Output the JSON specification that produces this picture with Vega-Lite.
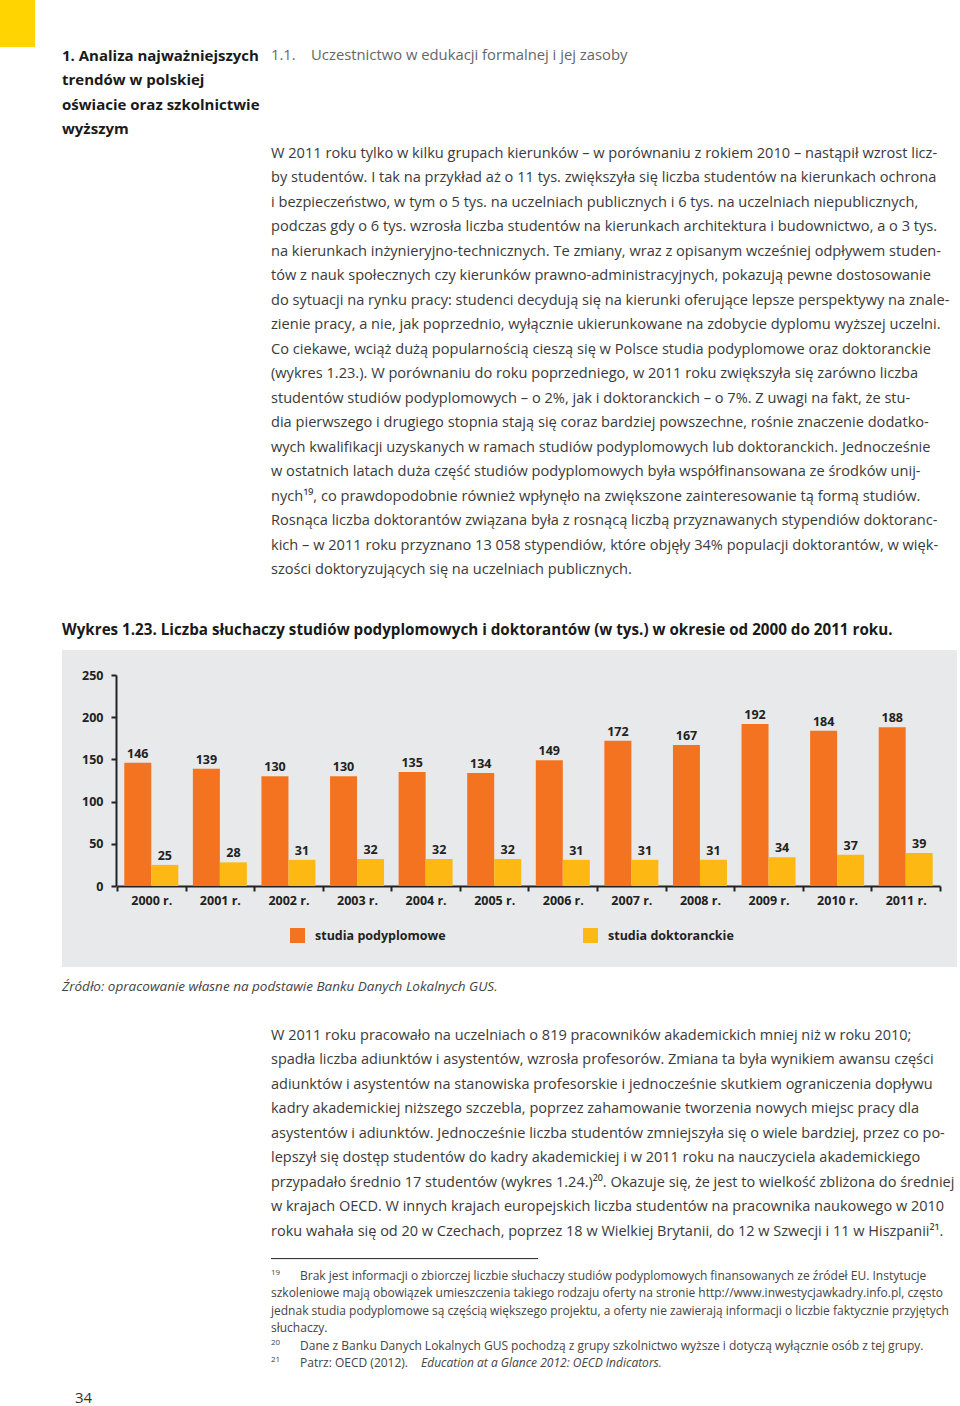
{
  "$schema": "https://vega.github.io/schema/vega-lite/v6.json",
  "background": "white",
  "padding": 0,
  "spacing": 0,
  "config": {
    "view": {"stroke": null},
    "concat": {"spacing": 0},
    "font": "Open Sans"
  },
  "datasets": {
    "top": [
      {"line": 0, "col": "head", "style": "head", "text": "1. Analiza najważniejszych"},
      {"line": 1, "col": "head", "style": "head", "text": "trendów w polskiej"},
      {"line": 2, "col": "head", "style": "head", "text": "oświacie oraz szkolnictwie"},
      {"line": 3, "col": "head", "style": "head", "text": "wyższym"},
      {"line": 0, "col": "body", "style": "sec", "text": "1.1.\u00a0\u00a0\u00a0\u00a0Uczestnictwo w edukacji formalnej i jej zasoby"},
      {"line": 4, "col": "body", "style": "body", "text": "W 2011 roku tylko w kilku grupach kierunków – w porównaniu z rokiem 2010 – nastąpił wzrost licz-"},
      {"line": 5, "col": "body", "style": "body", "text": "by studentów. I tak na przykład aż o 11 tys. zwiększyła się liczba studentów na kierunkach ochrona"},
      {"line": 6, "col": "body", "style": "body", "text": "i bezpieczeństwo, w tym o 5 tys. na uczelniach publicznych i 6 tys. na uczelniach niepublicznych,"},
      {"line": 7, "col": "body", "style": "body", "text": "podczas gdy o 6 tys. wzrosła liczba studentów na kierunkach architektura i budownictwo, a o 3 tys."},
      {"line": 8, "col": "body", "style": "body", "text": "na kierunkach inżynieryjno-technicznych. Te zmiany, wraz z opisanym wcześniej odpływem studen-"},
      {"line": 9, "col": "body", "style": "body", "text": "tów z nauk społecznych czy kierunków prawno-administracyjnych, pokazują pewne dostosowanie"},
      {"line": 10, "col": "body", "style": "body", "text": "do sytuacji na rynku pracy: studenci decydują się na kierunki oferujące lepsze perspektywy na znale-"},
      {"line": 11, "col": "body", "style": "body", "text": "zienie pracy, a nie, jak poprzednio, wyłącznie ukierunkowane na zdobycie dyplomu wyższej uczelni."},
      {"line": 12, "col": "body", "style": "body", "text": "Co ciekawe, wciąż dużą popularnością cieszą się w Polsce studia podyplomowe oraz doktoranckie"},
      {"line": 13, "col": "body", "style": "body", "text": "(wykres 1.23.). W porównaniu do roku poprzedniego, w 2011 roku zwiększyła się zarówno liczba"},
      {"line": 14, "col": "body", "style": "body", "text": "studentów studiów podyplomowych – o 2%, jak i doktoranckich – o 7%. Z uwagi na fakt, że stu-"},
      {"line": 15, "col": "body", "style": "body", "text": "dia pierwszego i drugiego stopnia stają się coraz bardziej powszechne, rośnie znaczenie dodatko-"},
      {"line": 16, "col": "body", "style": "body", "text": "wych kwalifikacji uzyskanych w ramach studiów podyplomowych lub doktoranckich. Jednocześnie"},
      {"line": 17, "col": "body", "style": "body", "text": "w ostatnich latach duża część studiów podyplomowych była współfinansowana ze środków unij-"},
      {"line": 18, "col": "body", "style": "body", "text": "nych¹⁹, co prawdopodobnie również wpłynęło na zwiększone zainteresowanie tą formą studiów."},
      {"line": 19, "col": "body", "style": "body", "text": "Rosnąca liczba doktorantów związana była z rosnącą liczbą przyznawanych stypendiów doktoranc-"},
      {"line": 20, "col": "body", "style": "body", "text": "kich – w 2011 roku przyznano 13 058 stypendiów, które objęły 34% populacji doktorantów, w więk-"},
      {"line": 21, "col": "body", "style": "body", "text": "szości doktoryzujących się na uczelniach publicznych."},
      {"line": 23.43, "col": "head", "style": "ctitle", "text": "Wykres 1.23. Liczba słuchaczy studiów podyplomowych i doktorantów (w tys.) w okresie od 2000 do 2011 roku."}
    ],
    "bottom": [
      {"line": -2, "col": "head", "style": "src", "text": "Źródło: opracowanie własne na podstawie Banku Danych Lokalnych GUS."},
      {"line": 0, "col": "body", "style": "body", "text": "W 2011 roku pracowało na uczelniach o 819 pracowników akademickich mniej niż w roku 2010;"},
      {"line": 1, "col": "body", "style": "body", "text": "spadła liczba adiunktów i asystentów, wzrosła profesorów. Zmiana ta była wynikiem awansu części"},
      {"line": 2, "col": "body", "style": "body", "text": "adiunktów i asystentów na stanowiska profesorskie i jednocześnie skutkiem ograniczenia dopływu"},
      {"line": 3, "col": "body", "style": "body", "text": "kadry akademickiej niższego szczebla, poprzez zahamowanie tworzenia nowych miejsc pracy dla"},
      {"line": 4, "col": "body", "style": "body", "text": "asystentów i adiunktów. Jednocześnie liczba studentów zmniejszyła się o wiele bardziej, przez co po-"},
      {"line": 5, "col": "body", "style": "body", "text": "lepszył się dostęp studentów do kadry akademickiej i w 2011 roku na nauczyciela akademickiego"},
      {"line": 6, "col": "body", "style": "body", "text": "przypadało średnio 17 studentów (wykres 1.24.)²⁰. Okazuje się, że jest to wielkość zbliżona do średniej"},
      {"line": 7, "col": "body", "style": "body", "text": "w krajach OECD. W innych krajach europejskich liczba studentów na pracownika naukowego w 2010"},
      {"line": 8, "col": "body", "style": "body", "text": "roku wahała się od 20 w Czechach, poprzez 18 w Wielkiej Brytanii, do 12 w Szwecji i 11 w Hiszpanii²¹."}
    ],
    "notes": [
      {"fn": 0, "col": "body", "kind": "num", "text": "19"},
      {"fn": 0, "col": "body", "kind": "first", "text": "Brak jest informacji o zbiorczej liczbie słuchaczy studiów podyplomowych finansowanych ze źródeł EU. Instytucje"},
      {"fn": 1, "col": "body", "kind": "cont", "text": "szkoleniowe mają obowiązek umieszczenia takiego rodzaju oferty na stronie http://www.inwestycjawkadry.info.pl, często"},
      {"fn": 2, "col": "body", "kind": "cont", "text": "jednak studia podyplomowe są częścią większego projektu, a oferty nie zawierają informacji o liczbie faktycznie przyjętych"},
      {"fn": 3, "col": "body", "kind": "cont", "text": "słuchaczy."},
      {"fn": 4, "col": "body", "kind": "num", "text": "20"},
      {"fn": 4, "col": "body", "kind": "first", "text": "Dane z Banku Danych Lokalnych GUS pochodzą z grupy szkolnictwo wyższe i dotyczą wyłącznie osób z tej grupy."},
      {"fn": 5, "col": "body", "kind": "num", "text": "21"},
      {"fn": 5, "col": "body", "kind": "first", "text": "Patrz: OECD (2012)."},
      {"fn": 5, "col": "body", "kind": "italic", "text": "Education at a Glance 2012: OECD Indicators."},
      {"fn": 7, "col": "head", "kind": "page", "text": "34"}
    ],
    "separator": [
      {"start": 0, "end": 1, "fn": -1}
    ],
    "wykres": [
      {"rok": "2000 r.", "rodzaj": "studia podyplomowe", "liczba": 146},
      {"rok": "2000 r.", "rodzaj": "studia doktoranckie", "liczba": 25},
      {"rok": "2001 r.", "rodzaj": "studia podyplomowe", "liczba": 139},
      {"rok": "2001 r.", "rodzaj": "studia doktoranckie", "liczba": 28},
      {"rok": "2002 r.", "rodzaj": "studia podyplomowe", "liczba": 130},
      {"rok": "2002 r.", "rodzaj": "studia doktoranckie", "liczba": 31},
      {"rok": "2003 r.", "rodzaj": "studia podyplomowe", "liczba": 130},
      {"rok": "2003 r.", "rodzaj": "studia doktoranckie", "liczba": 32},
      {"rok": "2004 r.", "rodzaj": "studia podyplomowe", "liczba": 135},
      {"rok": "2004 r.", "rodzaj": "studia doktoranckie", "liczba": 32},
      {"rok": "2005 r.", "rodzaj": "studia podyplomowe", "liczba": 134},
      {"rok": "2005 r.", "rodzaj": "studia doktoranckie", "liczba": 32},
      {"rok": "2006 r.", "rodzaj": "studia podyplomowe", "liczba": 149},
      {"rok": "2006 r.", "rodzaj": "studia doktoranckie", "liczba": 31},
      {"rok": "2007 r.", "rodzaj": "studia podyplomowe", "liczba": 172},
      {"rok": "2007 r.", "rodzaj": "studia doktoranckie", "liczba": 31},
      {"rok": "2008 r.", "rodzaj": "studia podyplomowe", "liczba": 167},
      {"rok": "2008 r.", "rodzaj": "studia doktoranckie", "liczba": 31},
      {"rok": "2009 r.", "rodzaj": "studia podyplomowe", "liczba": 192},
      {"rok": "2009 r.", "rodzaj": "studia doktoranckie", "liczba": 34},
      {"rok": "2010 r.", "rodzaj": "studia podyplomowe", "liczba": 184},
      {"rok": "2010 r.", "rodzaj": "studia doktoranckie", "liczba": 37},
      {"rok": "2011 r.", "rodzaj": "studia podyplomowe", "liczba": 188},
      {"rok": "2011 r.", "rodzaj": "studia doktoranckie", "liczba": 39}
    ]
  },
  "vconcat": [
    {
      "width": 35,
      "height": 47,
      "view": {"fill": "#ffd400", "stroke": null},
      "data": {"values": [{}]},
      "mark": {"type": "text", "text": ""}
    },
    {
      "width": 960,
      "height": 602,
      "view": {"fill": "white", "stroke": null},
      "data": {"name": "top"},
      "encoding": {
        "x": {"field": "col", "type": "nominal", "scale": {"type": "point", "domain": ["head", "body"], "range": [62, 271], "padding": 0}, "axis": null},
        "y": {"field": "line", "type": "quantitative", "scale": {"domain": [-0.3265, 24.2449], "reverse": true, "nice": false, "zero": false}, "axis": null},
        "text": {"field": "text", "type": "nominal"}
      },
      "layer": [
        {"transform": [{"filter": "datum.style === 'head'"}], "mark": {"type": "text", "align": "left", "baseline": "middle", "font": "Open Sans", "fontWeight": "bold", "fontSize": 15, "color": "#1a1a1a"}},
        {"transform": [{"filter": "datum.style === 'sec'"}], "mark": {"type": "text", "align": "left", "baseline": "middle", "font": "Open Sans", "fontSize": 14.8, "color": "#666666"}},
        {"transform": [{"filter": "datum.style === 'body'"}], "mark": {"type": "text", "align": "left", "baseline": "middle", "font": "Open Sans", "fontSize": 14.6, "color": "#3a3a3a"}},
        {"transform": [{"filter": "datum.style === 'ctitle'"}], "mark": {"type": "text", "align": "left", "baseline": "middle", "font": "Open Sans", "fontWeight": "bold", "fontSize": 15.2, "color": "#1a1a1a"}}
      ]
    },
    {
      "hconcat": [
        {
          "width": 62,
          "height": 317,
          "view": {"fill": "white", "stroke": null},
          "data": {"values": [{}]},
          "mark": {"type": "text", "text": ""}
        },
        {
          "width": 895,
          "height": 317,
          "view": {"fill": "#e8e9ea", "stroke": null},
          "data": {"name": "wykres"},
          "encoding": {
            "x": {
              "field": "rok", "type": "nominal", "sort": null,
              "scale": {"range": [55, 878], "paddingInner": 0, "paddingOuter": 0},
              "axis": {"orient": "bottom", "offset": -81, "title": null, "labelAngle": 0, "domainColor": "#222222", "domainWidth": 2, "tickColor": "#222222", "tickWidth": 2, "tickSize": 5, "tickBand": "extent", "labelFont": "Open Sans", "labelFontWeight": "bold", "labelFontSize": 12.5, "labelColor": "#222222", "labelPadding": 3}
            },
            "xOffset": {"field": "rodzaj", "type": "nominal", "scale": {"domain": ["studia podyplomowe", "studia doktoranckie"], "paddingInner": 0, "paddingOuter": 0.27}},
            "y": {
              "field": "liczba", "type": "quantitative",
              "scale": {"domain": [0, 250], "range": [236, 25], "nice": false},
              "axis": {"orient": "left", "offset": -54, "title": null, "values": [0, 50, 100, 150, 200, 250], "grid": false, "domainColor": "#222222", "domainWidth": 2, "tickColor": "#222222", "tickWidth": 2, "tickSize": 5, "labelPadding": 8, "labelFont": "Open Sans", "labelFontWeight": "bold", "labelFontSize": 12.5, "labelColor": "#222222"}
            }
          },
          "layer": [
            {
              "mark": {"type": "bar"},
              "encoding": {
                "color": {
                  "field": "rodzaj", "type": "nominal",
                  "scale": {"domain": ["studia podyplomowe", "studia doktoranckie"], "range": ["#f47321", "#fdb813"]},
                  "legend": {"orient": "none", "legendX": 290, "legendY": 928, "direction": "horizontal", "title": null, "symbolType": "square", "symbolSize": 225, "symbolStrokeWidth": 0, "symbolOpacity": 1, "labelFont": "Open Sans", "labelFontSize": 12.5, "labelFontWeight": "bold", "labelColor": "#222222", "labelOffset": 10, "columnPadding": 137, "padding": 0}
                }
              }
            },
            {
              "mark": {"type": "text", "baseline": "alphabetic", "dy": -5, "font": "Open Sans", "fontWeight": "bold", "fontSize": 12.5, "color": "#222222"},
              "encoding": {"text": {"field": "liczba", "type": "quantitative"}}
            }
          ]
        }
      ]
    },
    {
      "width": 960,
      "height": 440,
      "view": {"fill": "white", "stroke": null},
      "resolve": {"scale": {"x": "independent", "y": "independent"}},
      "layer": [
        {
          "data": {"name": "bottom"},
          "encoding": {
            "x": {"field": "col", "type": "nominal", "scale": {"type": "point", "domain": ["head", "body"], "range": [62, 271], "padding": 0}, "axis": null},
            "y": {"field": "line", "type": "quantitative", "scale": {"domain": [-2.8163, 15.1429], "reverse": true, "nice": false, "zero": false}, "axis": null},
            "text": {"field": "text", "type": "nominal"}
          },
          "layer": [
            {"transform": [{"filter": "datum.style === 'src'"}], "mark": {"type": "text", "align": "left", "baseline": "middle", "font": "Open Sans", "fontStyle": "italic", "fontSize": 13.5, "color": "#444444"}},
            {"transform": [{"filter": "datum.style === 'body'"}], "mark": {"type": "text", "align": "left", "baseline": "middle", "font": "Open Sans", "fontSize": 14.5, "color": "#3a3a3a"}}
          ]
        },
        {
          "data": {"name": "separator"},
          "mark": {"type": "rule", "color": "#222222", "strokeWidth": 1},
          "encoding": {
            "x": {"field": "start", "type": "quantitative", "scale": {"domain": [0, 1], "range": [271, 538], "nice": false, "zero": false}, "axis": null},
            "x2": {"field": "end"},
            "y": {"field": "fn", "type": "quantitative", "scale": {"domain": [-17.7586, 7.5287], "reverse": true, "nice": false, "zero": false}, "axis": null}
          }
        },
        {
          "data": {"name": "notes"},
          "encoding": {
            "x": {"field": "col", "type": "nominal", "scale": {"type": "point", "domain": ["head", "body"], "range": [62, 271], "padding": 0}, "axis": null},
            "y": {"field": "fn", "type": "quantitative", "scale": {"domain": [-17.7586, 7.5287], "reverse": true, "nice": false, "zero": false}, "axis": null},
            "text": {"field": "text", "type": "nominal"}
          },
          "layer": [
            {"transform": [{"filter": "datum.kind === 'num'"}], "mark": {"type": "text", "align": "left", "baseline": "middle", "dy": -3, "font": "Open Sans", "fontSize": 8, "color": "#444444"}},
            {"transform": [{"filter": "datum.kind === 'first'"}], "mark": {"type": "text", "align": "left", "baseline": "middle", "dx": 29, "font": "Open Sans", "fontSize": 12, "color": "#444444"}},
            {"transform": [{"filter": "datum.kind === 'italic'"}], "mark": {"type": "text", "align": "left", "baseline": "middle", "dx": 150, "font": "Open Sans", "fontStyle": "italic", "fontSize": 12, "color": "#444444"}},
            {"transform": [{"filter": "datum.kind === 'cont'"}], "mark": {"type": "text", "align": "left", "baseline": "middle", "font": "Open Sans", "fontSize": 12, "color": "#444444"}},
            {"transform": [{"filter": "datum.kind === 'page'"}], "mark": {"type": "text", "align": "left", "baseline": "middle", "dx": 13, "font": "Open Sans", "fontSize": 15, "color": "#333333"}}
          ]
        }
      ]
    }
  ]
}
